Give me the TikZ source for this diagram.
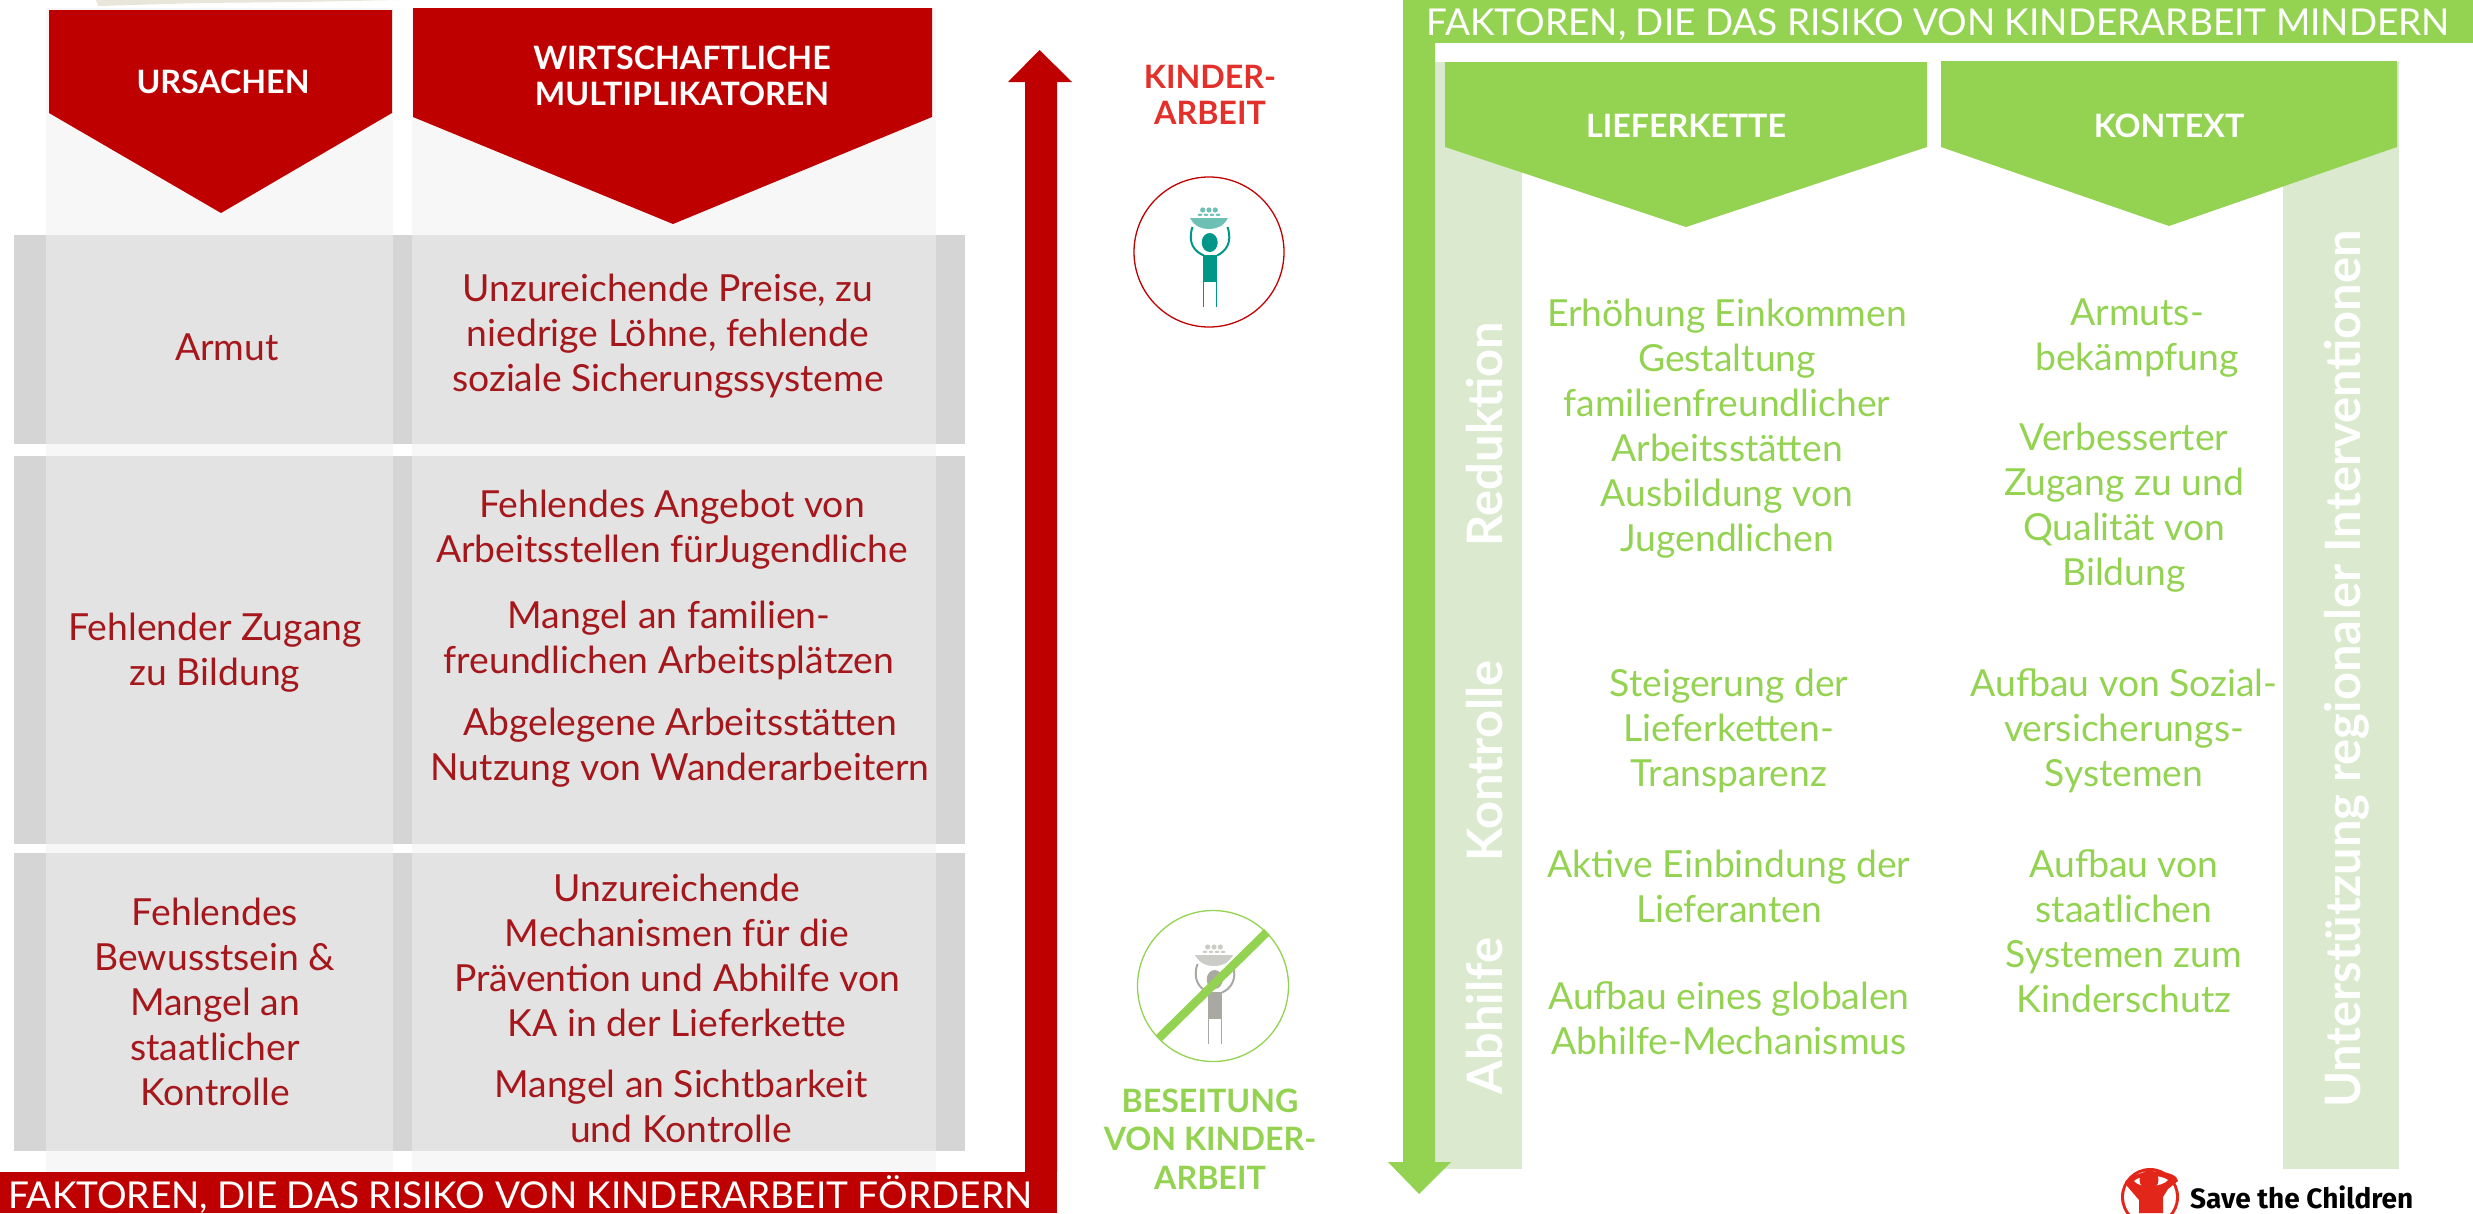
\documentclass[tikz,border=0pt]{standalone}
\usepackage{fontspec}
\setmainfont{Lato}
\newfontfamily\fira{Fira Sans}
\definecolor{cred}{HTML}{BF0000}
\definecolor{ctext}{HTML}{A6171C}
\definecolor{ckind}{HTML}{E3302A}
\definecolor{cgreen}{HTML}{94D352}
\definecolor{cpale}{HTML}{DBEACF}
\definecolor{cgray}{HTML}{E3E3E3}
\definecolor{cdark}{HTML}{D5D5D5}
\definecolor{ccol}{HTML}{F7F7F7}
\definecolor{cteal}{HTML}{009688}
\definecolor{cteall}{HTML}{6FC0B4}
\definecolor{cgrey}{HTML}{A9A8A3}
\definecolor{cgreyl}{HTML}{CBCBC7}
\definecolor{clogo}{HTML}{E3261A}
\definecolor{cbeige}{HTML}{E8E6DA}
\tikzset{
  txt/.style={align=center,inner sep=0pt,font=\fontsize{37.3}{45}\selectfont},
  redtxt/.style={txt,text=ctext},
  greentxt/.style={txt,text=cgreen},
  headtxt/.style={align=center,inner sep=0pt,text=white,font=\fontsize{32.2}{36}\selectfont\bfseries},
  bandtxt/.style={anchor=base,inner sep=0pt,text=white,font=\fontsize{37}{40}\selectfont},
  vert/.style={rotate=90,inner sep=0pt,text=white,font=\fontsize{48.8}{50}\selectfont\bfseries},
}
\newcommand{\kidicon}[4]{%
 \begin{scope}[shift={(#1,#2)}]
  \fill[#4] (-19,-34) -- (19,-34) .. controls (14,-25) and (7,-23) .. (0,-23) .. controls (-7,-23) and (-14,-25) .. (-19,-34) -- cycle;
  \foreach \dx in {-6.3,0,6.3} \fill[#4] (\dx,-42) circle (2.6);
  \foreach \dx in {-9,-3,3,9} \fill[#4] (\dx,-37.2) ellipse (2.4 and 1.2);
  \draw[#3,line width=2pt] (-16.5,-25) .. controls (-22,-9) and (-14,0) .. (-5,3.5);
  \draw[#3,line width=2pt] (18.5,-25) .. controls (24,-9) and (16,0) .. (8,3.5);
  \fill[#3] (0.7,-9.5) ellipse (8 and 9.5);
  \fill[#3] (-6.3,3.3) rectangle (8.3,30);
  \fill[#3] (-6.3,30) rectangle (-4.7,54.5);
  \fill[#3] (6.7,30) rectangle (8.3,54.5);
 \end{scope}}
\begin{document}
\begin{tikzpicture}[x=1pt,y=-1pt]
\useasboundingbox (0,0) rectangle (2473,1213);
\begin{scope}
\clip (0,0) rectangle (2473,1213);
% top sliver
\fill[cbeige] (96,0) -- (399,0) -- (300,2) -- (200,3) -- (98,6) -- cycle;
% left columns
\fill[ccol] (46,8) rectangle (393,1172);
\fill[ccol] (412,8) rectangle (936,1172);
% rows
\foreach \ya/\yb in {235/444,456/844,853/1151}{
  \fill[cdark] (14,\ya) rectangle (965,\yb);
  \fill[cgray] (46,\ya) rectangle (393,\yb);
  \fill[cgray] (412,\ya) rectangle (936,\yb);
}
% headers
\fill[cred] (49,10) -- (392,10) -- (392,113) -- (221,213) -- (49,113) -- cycle;
\fill[cred] (413,8) -- (932,8) -- (932,117) -- (673,224) -- (413,117) -- cycle;
% red arrow + band
\fill[cred] (1025,1172) -- (1025,82) -- (1008,82) -- (1039.5,50) -- (1072,82) -- (1057,82) -- (1057,1172) -- cycle;
\fill[cred] (0,1172) rectangle (1057,1213);
% green band and arrow
\fill[cpale] (1435,62) rectangle (1522,1169);
\fill[cpale] (2283,62) rectangle (2399,1169);
\fill[cgreen] (1403,0) rectangle (2473,43);
\fill[cgreen] (1403,0) -- (1435,0) -- (1435,1162) -- (1451,1162) -- (1419,1194) -- (1388,1162) -- (1403,1162) -- cycle;
\fill[cgreen] (1445,62) -- (1927,62) -- (1927,147) -- (1686,227) -- (1445,147) -- cycle;
\fill[cgreen] (1941,61) -- (2397,61) -- (2397,147) -- (2169,226) -- (1941,147) -- cycle;
% icons
\node[draw=cred,line width=1.3pt,circle,minimum size=150pt,inner sep=0pt] (c1) at (1209,252) {};
\kidicon{1209}{252}{cteal}{cteall}
\kidicon{1214}{989}{cgrey}{cgreyl}
\node[draw=cgreen,line width=1.3pt,circle,minimum size=151pt,inner sep=0pt] (c2) at (1213,986) {};
\coordinate (s1) at (1159,1038);
\coordinate (s2) at (1267,932);
\draw[cgreen,line width=8.5pt] (s1) -- (s2);
% logo
\fill[clogo] (2150,1197) circle (29);
\fill[white] (2150,1197) circle (26);
\fill[clogo] (2125,1182) .. controls (2135,1170) and (2165,1168) .. (2176,1177) -- (2178,1181) -- (2168,1189) -- (2163,1197) -- (2163,1213) -- (2139,1213) -- (2139,1200) -- (2127,1186) -- cycle;
\fill[white] (2134,1181) .. controls (2140,1175) and (2160,1174) .. (2168,1180) .. controls (2162,1187) and (2140,1189) .. (2134,1181) -- cycle;
\fill[clogo] (2149,1180) circle (9.5);
\end{scope}
% texts: headers
\node[headtxt] (h1) at (223,82) {URSACHEN};
\node[headtxt] (h2) at (682,76) {WIRTSCHAFTLICHE\\MULTIPLIKATOREN};
\node[headtxt] (h3) at (1686,126) {LIEFERKETTE};
\node[headtxt] (h4) at (2169,126) {KONTEXT};
\node[bandtxt] (b1) at (520,1208.5) {FAKTOREN, DIE DAS RISIKO VON KINDERARBEIT FÖRDERN};
\node[bandtxt] (b2) at (1938,35) {FAKTOREN, DIE DAS RISIKO VON KINDERARBEIT MINDERN};
\node[headtxt,text=ckind] (k1) at (1210,95) {KINDER-\\ARBEIT};
\node[headtxt,align=center,text=cgreen,font=\fontsize{32.2}{38.6}\selectfont\bfseries] (k2) at (1210,1139) {BESEITUNG\\VON KINDER-\\ARBEIT};
% red body
\node[redtxt] (a1) at (227,347.5) {Armut};
\node[redtxt] (a2) at (668,336) {Unzureichende Preise, zu\\niedrige Löhne, fehlende\\soziale Sicherungssysteme};
\node[redtxt] (a3) at (215,653) {Fehlender Zugang\\zu Bildung};
\node[redtxt] (a4) at (672,530) {Fehlendes Angebot von\\Arbeitsstellen fürJugendliche};
\node[redtxt] (a5) at (669,640) {Mangel an familien-\\freundlichen Arbeitsplätzen};
\node[redtxt] (a6) at (680,748) {Abgelegene Arbeitsstätten\\Nutzung von Wanderarbeitern};
\node[redtxt] (a7) at (215,1002) {Fehlendes\\Bewusstsein \&\\Mangel an\\staatlicher\\Kontrolle};
\node[redtxt] (a8) at (677,955) {Unzureichende\\Mechanismen für die\\Prävention und Abhilfe von\\KA in der Lieferkette};
\node[redtxt] (a9) at (681,1106) {Mangel an Sichtbarkeit\\und Kontrolle};
% green body
\node[greentxt] (g1) at (1727,429) {Erhöhung Einkommen\\Gestaltung\\familienfreundlicher\\Arbeitsstätten\\Ausbildung von\\Jugendlichen};
\node[greentxt] (g2) at (2137,338) {Armuts-\\bekämpfung};
\node[greentxt] (g3) at (2124,508) {Verbesserter\\Zugang zu und\\Qualität von\\Bildung};
\node[greentxt] (g4) at (1729,731) {Steigerung der\\Lieferketten-\\Transparenz};
\node[greentxt] (g5) at (2124,731) {Aufbau von Sozial-\\versicherungs-\\Systemen};
\node[greentxt] (g6) at (1729,886) {Aktive Einbindung der\\Lieferanten};
\node[greentxt] (g7) at (2124,931) {Aufbau von\\staatlichen\\Systemen zum\\Kinderschutz};
\node[greentxt] (g8) at (1729,1018) {Aufbau eines globalen\\Abhilfe-Mechanismus};
% vertical
\node[vert] (v1) at (1485,434) {Reduktion};
\node[vert] (v2) at (1485,761) {Kontrolle};
\node[vert] (v3) at (1485,1016) {Abhilfe};
\node[vert] (v4) at (2347,669) {Unterstützung regionaler Interventionen};
% logo text
\node[anchor=base west,inner sep=0pt,font=\fira\fontsize{28}{30}\selectfont\bfseries] (lg) at (2190,1208) {Save the Children};
\end{tikzpicture}
\end{document}
